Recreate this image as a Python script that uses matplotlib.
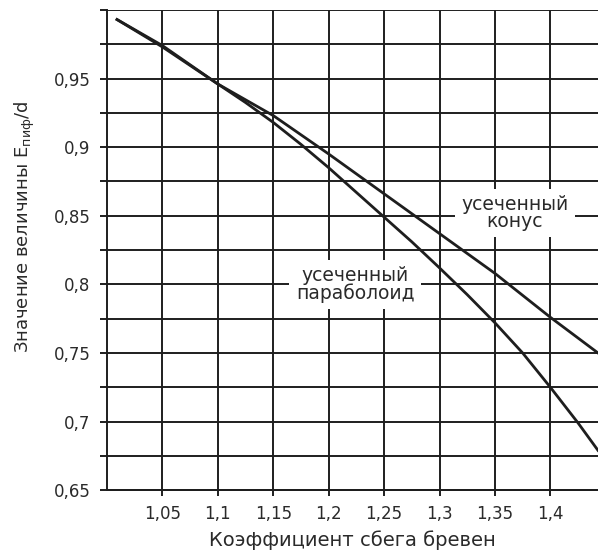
import matplotlib.pyplot as plt
from matplotlib.ticker import FuncFormatter

plt.rcParams['font.family'] = ['DejaVu Sans']
plt.rcParams['mathtext.fontset'] = 'dejavusans'

# значения
x_cone = [1.009, 1.05, 1.1, 1.15, 1.2, 1.25, 1.3, 1.35, 1.4, 1.443]
y_cone = [0.993, 0.973, 0.946, 0.923, 0.895, 0.866, 0.837, 0.808, 0.776, 0.750]
x_par = [1.009, 1.05, 1.1, 1.125, 1.15, 1.175, 1.2, 1.225, 1.25, 1.275, 1.3,
         1.325, 1.35, 1.375, 1.4, 1.425, 1.443]
y_par = [0.993, 0.974, 0.946, 0.9325, 0.918, 0.902, 0.885, 0.867, 0.849, 0.831, 0.812,
         0.7925, 0.772, 0.750, 0.725, 0.699, 0.679]

x_ticks = [1.05, 1.1, 1.15, 1.2, 1.25, 1.3, 1.35, 1.4]
y_ticks = [0.65, 0.7, 0.75, 0.8, 0.85, 0.9, 0.95]
y_minor = [0.675, 0.725, 0.775, 0.825, 0.875, 0.925, 0.975, 1.0]

ink = '#1e1e1e'
txt = '#2a2a2a'

fig = plt.figure(figsize=(5.98, 5.52), dpi=100)
ax = fig.add_axes([0.179, 0.112, 0.821, 0.870])

ax.plot(x_cone, y_cone, color=ink, lw=2, zorder=3)
ax.plot(x_par, y_par, color=ink, lw=2, zorder=3)

ax.set_xlim(1.0, 1.443)
ax.set_ylim(0.65, 1.0)
ax.set_xticks(x_ticks)
ax.set_yticks(y_ticks)
ax.set_yticks(y_minor, minor=True)

fmt = FuncFormatter(lambda v, p: ('%g' % v).replace('.', ','))
ax.xaxis.set_major_formatter(fmt)
ax.yaxis.set_major_formatter(fmt)

ax.grid(True, which='major', color=ink, lw=1.4)
ax.grid(True, which='minor', axis='y', color=ink, lw=1.4)
for gl in ax.get_ygridlines() + ax.yaxis.get_minorticklines():
    gl.set_clip_on(False)

ax.tick_params(axis='both', which='both', direction='out', width=1.4,
               color=ink, labelsize=12, labelcolor=txt)
ax.tick_params(axis='y', which='both', length=5, pad=7)
ax.tick_params(axis='x', length=4, pad=7)

for s in ['top', 'right']:
    ax.spines[s].set_visible(False)
for s in ['left', 'bottom']:
    ax.spines[s].set_color(ink)
    ax.spines[s].set_linewidth(1.4)

box = dict(boxstyle='square,pad=0.35', facecolor='white', edgecolor='none')
ax.text(1.368, 0.852, 'усеченный\nконус', ha='center', va='center', fontsize=13.5,
        color=txt, bbox=box, zorder=4, linespacing=0.85)
ax.text(1.224, 0.8, 'усеченный\nпараболоид', ha='center', va='center', fontsize=13.5,
        color=txt, bbox=box, zorder=4, linespacing=0.85)

ax.set_xlabel('Коэффициент сбега бревен', fontsize=14, color=txt, labelpad=5)
ax.set_ylabel('Значение величины E$_{\\mathregular{пиф}}$/d', fontsize=13, color=txt)
ax.yaxis.set_label_coords(-0.143, 0.548)

fig.savefig('out.png', dpi=100)
